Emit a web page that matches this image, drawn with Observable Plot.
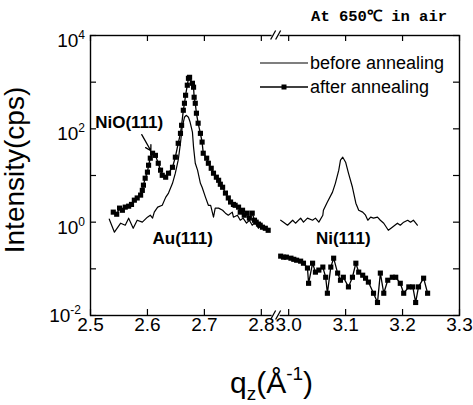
<!DOCTYPE html>
<html><head><meta charset="utf-8">
<script src="https://cdn.jsdelivr.net/npm/d3@7"></script>
<script src="https://cdn.jsdelivr.net/npm/@observablehq/plot@0.6"></script>
<style>body{margin:0;background:#fff}</style>
</head><body><div id="chart"></div>
<script>
// [q_z (1/Å), intensity (cps)]
const beforeLow = [[2.533,1.16],[2.542,0.61],[2.553,0.95],[2.561,0.86],[2.567,1.22],[2.575,0.74],[2.582,1.10],[2.591,1.0],[2.600,1.28],[2.605,1.41],[2.609,1.22],[2.612,1.64],[2.618,2.1],[2.626,2.3],[2.632,3.4],[2.637,4.2],[2.644,6.8],[2.649,11.2],[2.654,21.3],[2.658,49],[2.661,108],[2.665,177],[2.668,195],[2.672,177],[2.675,138],[2.679,85],[2.681,40],[2.684,18.3],[2.688,13],[2.693,6.8],[2.696,5.6],[2.702,3.4],[2.707,2.3],[2.711,2.3],[2.716,1.28],[2.719,2.0],[2.725,2.0],[2.732,1.8],[2.737,1.56],[2.742,1.41],[2.749,1.64],[2.751,1.28],[2.758,1.41],[2.763,1.10],[2.768,1.22],[2.774,0.95],[2.779,1.10],[2.784,0.86],[2.789,1.0],[2.795,0.74],[2.800,0.91],[2.805,0.71],[2.812,0.74]];
const afterLow = [[2.540,1.64],[2.546,1.48],[2.551,2.0],[2.556,1.8],[2.561,2.1],[2.567,2.2],[2.572,2.4],[2.577,2.96],[2.582,3.3],[2.588,3.8],[2.591,4.8],[2.593,6.2],[2.596,8.75],[2.600,11.8],[2.602,16.6],[2.605,23.5],[2.609,30],[2.614,27],[2.619,18.3],[2.623,13],[2.626,10.1],[2.632,9.2],[2.637,11.2],[2.644,15],[2.649,24.7],[2.654,49],[2.658,80],[2.660,119],[2.663,250],[2.665,353],[2.667,524],[2.670,860],[2.672,1210],[2.674,1270],[2.679,947],[2.681,780],[2.682,475],[2.684,353],[2.686,216],[2.689,132],[2.693,80],[2.696,52],[2.698,30],[2.704,23.5],[2.707,18.3],[2.712,14.3],[2.716,11.2],[2.721,9.2],[2.725,7.9],[2.728,6.5],[2.732,5.6],[2.737,4.2],[2.742,3.3],[2.746,2.7],[2.751,2.4],[2.754,2.3],[2.760,2.1],[2.763,1.64],[2.767,1.8],[2.770,1.41],[2.775,1.56],[2.779,1.22],[2.784,1.56],[2.788,1.10],[2.791,1.0],[2.795,0.91],[2.798,0.86],[2.802,0.78],[2.807,0.74],[2.812,0.67]];
const beforeHigh = [[2.986,1.10],[2.991,1.0],[2.998,0.86],[3.007,1.10],[3.012,0.95],[3.021,1.22],[3.026,1.0],[3.033,1.22],[3.042,1.10],[3.047,1.22],[3.053,1.0],[3.060,1.41],[3.061,1.8],[3.068,2.7],[3.077,4.4],[3.082,6.8],[3.088,13],[3.091,21.3],[3.095,24.7],[3.100,19.3],[3.105,11.2],[3.112,5.6],[3.118,2.55],[3.123,1.8],[3.130,1.64],[3.135,1.41],[3.139,1.10],[3.144,1.28],[3.149,1.22],[3.156,1.28],[3.161,1.10],[3.167,0.95],[3.175,0.67],[3.182,0.78],[3.191,0.95],[3.196,0.86],[3.202,1.0],[3.209,1.10],[3.214,1.0],[3.219,1.10],[3.226,0.86]];
const afterHigh = [[2.986,0.187],[2.991,0.178],[2.996,0.178],[3.004,0.169],[3.009,0.16],[3.014,0.153],[3.021,0.146],[3.026,0.132],[3.033,0.104],[3.035,0.049],[3.042,0.132],[3.047,0.085],[3.053,0.094],[3.060,0.109],[3.065,0.066],[3.068,0.030],[3.074,0.109],[3.079,0.169],[3.086,0.081],[3.091,0.057],[3.096,0.066],[3.105,0.041],[3.112,0.066],[3.118,0.132],[3.123,0.085],[3.130,0.073],[3.135,0.063],[3.140,0.052],[3.149,0.030],[3.156,0.019],[3.161,0.081],[3.167,0.030],[3.174,0.057],[3.182,0.066],[3.188,0.066],[3.196,0.049],[3.202,0.030],[3.211,0.041],[3.218,0.041],[3.223,0.019],[3.228,0.041],[3.237,0.063],[3.244,0.030]];

const xTicks = [2.5, 2.6, 2.7, 2.8, 3.0, 3.1, 3.2, 3.3];
const xTickLabels = ["2.5", "2.6", "2.7", "2.8", "3.0", "3.1", "3.2", "3.3"];
const yTicks = [1e-2, 1e-1, 1, 1e1, 1e2, 1e3, 1e4];
const yLabelTicks = [1e-2, 1, 1e2, 1e4];
const yLabelExps = ["-2", "0", "2", "4"];
const peakLabels = [
  {q: 2.568, I: 138, text: "NiO(111)"},
  {q: 2.662, I: 0.45, text: "Au(111)"},
  {q: 3.096, I: 0.45, text: "Ni(111)"}
];
const nioArrow = [{q1: 2.590, I1: 75, q2: 2.606, I2: 34}];
const seriesNames = ["before annealing", "after annealing"];
const titleText = "At 650\u2103 in air";
const axisBreak = [2.83, 2.982];   // q range cut out of the axis
const breakMarkQ = 2.826;

const bx = q => q > axisBreak[0] ? q - (axisBreak[1] - axisBreak[0]) : q;

const W = 473, H = 405, mL = 90, mR = 14, mT = 35, mB = 90;
const fw = W - mL - mR, fh = H - mT - mB;

const plot = Plot.plot({
  width: W, height: H,
  marginLeft: mL, marginRight: mR, marginTop: mT, marginBottom: mB,
  style: {fontFamily: "'Liberation Sans', Arial, sans-serif", fontSize: "19px", background: "white", color: "black"},
  x: {domain: [2.5, bx(3.3)], axis: null},
  y: {type: "log", domain: [1e-2, 1e4], axis: null},
  marks: [
    Plot.tickX(xTicks, {x: bx, insetTop: fh - 6, strokeWidth: 1.2}),
    Plot.tickX(xTicks, {x: bx, insetBottom: fh - 6, strokeWidth: 1.2}),
    Plot.tickY(yTicks, {y: d => d, insetRight: fw - 6, strokeWidth: 1.2}),
    Plot.tickY(yTicks, {y: d => d, insetLeft: fw - 6, strokeWidth: 1.2}),
    Plot.axisX({ticks: xTicks.map(bx), tickSize: 0, tickPadding: 2,
      tickFormat: d => xTickLabels[xTicks.findIndex(t => Math.abs(bx(t) - d) < 1e-9)],
      label: null, fontSize: 19}),
    Plot.line(beforeLow, {x: d => bx(d[0]), y: d => d[1], stroke: "black", strokeWidth: 1.2}),
    Plot.line(beforeHigh, {x: d => bx(d[0]), y: d => d[1], stroke: "black", strokeWidth: 1.2}),
    Plot.line(afterLow, {x: d => bx(d[0]), y: d => d[1], stroke: "black", strokeWidth: 1.3}),
    Plot.line(afterHigh, {x: d => bx(d[0]), y: d => d[1], stroke: "black", strokeWidth: 1.3}),
    Plot.dot(afterLow, {x: d => bx(d[0]), y: d => d[1], symbol: "square", fill: "black", r: 2.9}),
    Plot.dot(afterHigh, {x: d => bx(d[0]), y: d => d[1], symbol: "square", fill: "black", r: 2.9}),
    Plot.text(peakLabels, {x: d => bx(d.q), y: "I", text: "text", fontWeight: "bold", fontSize: 17}),
    Plot.arrow(nioArrow, {x1: d => bx(d.q1), y1: "I1", x2: d => bx(d.q2), y2: "I2", stroke: "black", strokeWidth: 1.3, headLength: 7}),
    Plot.frame({stroke: "black", strokeWidth: 1.4})
  ]
});
document.getElementById("chart").appendChild(plot);

const sx = plot.scale("x"), sy = plot.scale("y");
const svg = d3.select(plot);
const font = "'Liberation Sans', Arial, sans-serif";

// y tick labels 10^n
yLabelTicks.forEach((v, i) => {
  const t = svg.append("text").attr("x", i === 0 ? mL - 9 : mL - 5).attr("y", sy.apply(v) + (i === 0 ? 7 : 12))
    .attr("text-anchor", "end").attr("font-family", font).attr("font-size", 19).attr("fill", "black");
  t.append("tspan").text("10");
  t.append("tspan").attr("dy", -8).attr("font-size", 12).text(yLabelExps[i]);
});

// y axis title
svg.append("text").attr("transform", `translate(24,${mT + fh / 2 - 5}) rotate(-90)`)
  .attr("text-anchor", "middle").attr("font-family", font).attr("font-size", 28).attr("fill", "black")
  .text("Intensity(cps)");

// x axis title q_z(Å^-1)
const xl = svg.append("text").attr("x", mL + fw / 2 - 3).attr("y", 393)
  .attr("text-anchor", "middle").attr("font-family", font).attr("font-size", 30).attr("fill", "black");
xl.append("tspan").text("q");
xl.append("tspan").attr("font-size", 19).attr("dy", 7).text("z");
xl.append("tspan").attr("dy", -7).text("(\u00C5");
xl.append("tspan").attr("font-size", 19).attr("dy", -13).text("-1");
xl.append("tspan").attr("dy", 13).text(")");

// title
svg.append("text").attr("x", 447).attr("y", 21).attr("text-anchor", "end")
  .attr("font-family", "'Liberation Mono', 'DejaVu Sans Mono', monospace").attr("font-weight", "bold")
  .attr("font-size", 15.5).attr("fill", "black").text(titleText);

// axis break marks
const bxPix = sx.apply(breakMarkQ);
[sy.apply(1e4), sy.apply(1e-2)].forEach(yy => {
  svg.append("rect").attr("x", bxPix - 4).attr("y", yy - 2).attr("width", 8).attr("height", 4).attr("fill", "white");
  [-2.5, 2.5].forEach(k => {
    svg.append("line").attr("x1", bxPix + k - 2.5).attr("y1", yy + 4.5)
      .attr("x2", bxPix + k + 2.5).attr("y2", yy - 4.5)
      .attr("stroke", "black").attr("stroke-width", 1.3);
  });
});

// legend
const lgX0 = 260, lgX1 = 308, lgY = [63, 87];
seriesNames.forEach((name, i) => {
  svg.append("line").attr("x1", lgX0).attr("x2", lgX1).attr("y1", lgY[i]).attr("y2", lgY[i])
    .attr("stroke", "black").attr("stroke-width", i ? 1.3 : 1.2);
  if (i) svg.append("rect").attr("x", (lgX0 + lgX1) / 2 - 2.5).attr("y", lgY[i] - 2.5)
    .attr("width", 5).attr("height", 5).attr("fill", "black");
  svg.append("text").attr("x", lgX1 + 2).attr("y", lgY[i] + 6).attr("text-anchor", "start")
    .attr("font-family", font).attr("font-size", 18).attr("fill", "black").text(name);
});
</script>
</body></html>
